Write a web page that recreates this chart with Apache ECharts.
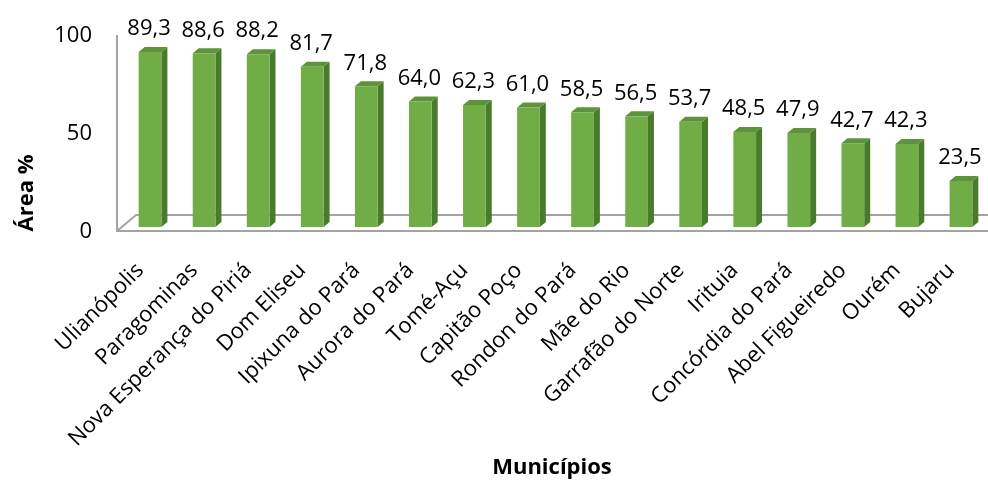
<!DOCTYPE html>
<html>
<head>
<meta charset="utf-8">
<title>Área por município</title>
<script src="https://cdn.jsdelivr.net/npm/echarts@6/dist/echarts.min.js"></script>
<style>
  html, body { margin: 0; padding: 0; background: #fff; }
  #chart { width: 988px; height: 482px; }
</style>
</head>
<body>
<div id="chart"></div>
<script>
// Municipalities and their share of area (%)
const municipios = [
  'Ulianópolis', 'Paragominas', 'Nova Esperança do Piriá', 'Dom Eliseu',
  'Ipixuna do Pará', 'Aurora do Pará', 'Tomé-Açu', 'Capitão Poço',
  'Rondon do Pará', 'Mãe do Rio', 'Garrafão do Norte', 'Irituia',
  'Concórdia do Pará', 'Abel Figueiredo', 'Ourém', 'Bujaru'
];
const area = [89.3, 88.6, 88.2, 81.7, 71.8, 64.0, 62.3, 61.0, 58.5, 56.5, 53.7, 48.5, 47.9, 42.7, 42.3, 23.5];
const yTicks = { min: 0, max: 100, interval: 50 };

const FONT = '"Open Sans", "Noto Sans", sans-serif';
const C_FRONT = '#70ad47';
const C_TOP = '#5e933b';
const C_SIDE = '#4a7a2c';
const C_FLOOR = '#a3a3a3';
const DEPTH_X = 6, DEPTH_Y = -5;

const chart = echarts.init(document.getElementById('chart'), null, { renderer: 'canvas' });

function fmt(v) { return v.toFixed(1).replace('.', ','); }

// Draws each value as a box: front face, right side and top
function renderBox(params, api) {
  const i = api.value(0);
  const v = api.value(1);
  const top = api.coord([i, v]);
  const base = api.coord([i, 0]);
  const w = api.size([1, 0])[0] * 0.42;
  const x0 = top[0] - w / 2;
  const x1 = top[0] + w / 2;
  const yT = top[1], yB = base[1];
  return {
    type: 'group',
    children: [
      {
        type: 'polygon',
        shape: { points: [[x1, yT], [x1 + DEPTH_X, yT + DEPTH_Y], [x1 + DEPTH_X, yB + DEPTH_Y], [x1, yB]] },
        style: { fill: C_SIDE }
      },
      {
        type: 'polygon',
        shape: { points: [[x0, yT], [x0 + DEPTH_X, yT + DEPTH_Y], [x1 + DEPTH_X, yT + DEPTH_Y], [x1, yT]] },
        style: { fill: C_TOP }
      },
      {
        type: 'rect',
        shape: { x: x0, y: yT, width: w, height: yB - yT },
        style: { fill: C_FRONT }
      },
      {
        type: 'text',
        x: top[0] - 1,
        y: yT - 23,
        style: {
          text: fmt(v),
          fill: '#000',
          font: '22px ' + FONT,
          align: 'center',
          verticalAlign: 'middle'
        }
      }
    ]
  };
}

chart.setOption({
  animation: false,
  backgroundColor: '#fff',
  grid: { left: 123, top: 31, width: 870, height: 196 },
  xAxis: {
    type: 'category',
    data: municipios,
    axisLine: { show: false },
    axisTick: { show: false },
    splitLine: { show: false },
    axisLabel: {
      interval: 0,
      rotate: 45,
      margin: 30,
      formatter: (v) => '{t|' + v + '}',
      rich: {
        t: { color: '#000', fontSize: 22, fontFamily: FONT, padding: [0, 14, 0, 0] }
      }
    }
  },
  yAxis: {
    type: 'value',
    min: yTicks.min,
    max: yTicks.max,
    interval: yTicks.interval,
    axisLine: { show: false },
    axisTick: { show: false },
    splitLine: { show: false },
    axisLabel: {
      margin: 31,
      formatter: (v) => '{t|' + v + '}',
      rich: {
        t: { color: '#000', fontSize: 22, fontFamily: FONT, padding: [10, 0, 0, 0] }
      }
    }
  },
  series: [{
    type: 'custom',
    renderItem: renderBox,
    data: area.map((v, i) => [i, v]),
    clip: false
  }]
});

// Floor and left wall edge of the plot box
const origin = chart.convertToPixel({ gridIndex: 0 }, [0, 0]);
const top100 = chart.convertToPixel({ gridIndex: 0 }, [0, yTicks.max]);
const leftX = origin[0] - 33;
const frontY = origin[1] + 4;
const backY = origin[1] - 12;
const rightX = 988;

chart.setOption({
  graphic: [
    {
      type: 'polyline',
      shape: { points: [[leftX, top100[1] + 4], [leftX, frontY], [rightX, frontY]] },
      style: { stroke: C_FLOOR, lineWidth: 2, fill: null },
      z: 1
    },
    {
      type: 'polyline',
      shape: { points: [[leftX, frontY], [leftX + 19, backY], [rightX, backY]] },
      style: { stroke: C_FLOOR, lineWidth: 2, fill: null },
      z: 1
    },
    {
      type: 'text',
      x: 27, y: 193,
      rotation: Math.PI / 2,
      style: {
        text: 'Área %',
        font: 'bold 22px ' + FONT,
        fill: '#000',
        align: 'center',
        verticalAlign: 'middle'
      }
    },
    {
      type: 'text',
      x: 552, y: 468,
      style: {
        text: 'Municípios',
        font: 'bold 22px ' + FONT,
        fill: '#000',
        align: 'center',
        verticalAlign: 'middle'
      }
    }
  ]
});
</script>
</body>
</html>
